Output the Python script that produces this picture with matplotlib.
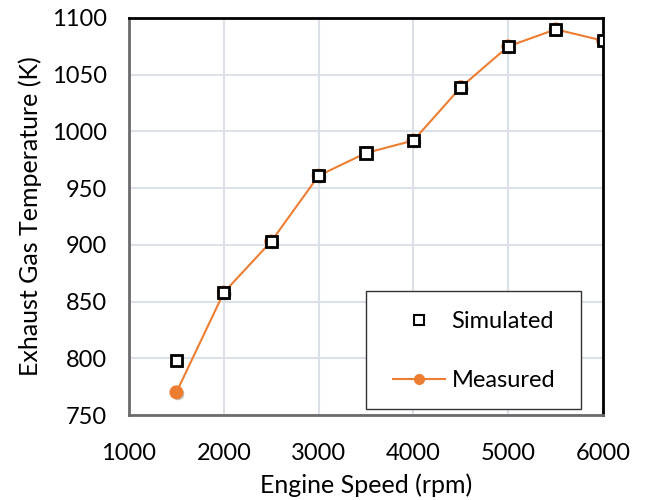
import matplotlib
matplotlib.use("Agg")
import matplotlib.pyplot as plt
import matplotlib.patheffects as pe
from matplotlib.patches import Rectangle

speed = [1500, 2000, 2500, 3000, 3500, 4000, 4500, 5000, 5500, 6000]
simulated = [798, 858, 903, 961, 981, 992, 1039, 1075, 1090, 1080]
measured = [770, 858, 903, 961, 981, 992, 1039, 1075, 1090, 1080]

plt.rcParams['font.family'] = ['Lato', 'DejaVu Sans']

fig = plt.figure(figsize=(6.45, 5.0), dpi=100)
ax = fig.add_axes([0.2, 0.17, 0.735, 0.794])

orange = '#ED7D31'
shadow = [pe.SimplePatchShadow(offset=(1.2, -1.2), alpha=0.3), pe.Normal()]
ax.plot(speed, measured, color=orange, lw=1.5, zorder=3)
ax.plot(speed, measured, ls='none', marker='o', ms=9,
        markerfacecolor=orange, markeredgecolor=orange, zorder=3,
        path_effects=shadow)
ax.plot(speed, simulated, ls='none', marker='s', ms=8, markerfacecolor='white',
        markeredgecolor='black', markeredgewidth=2, zorder=4,
        path_effects=shadow)

h_sim, = ax.plot([], [], ls='none', marker='s', ms=7, markerfacecolor='white',
                 markeredgecolor='black', markeredgewidth=1.5)
h_meas, = ax.plot([], [], color=orange, lw=1.5, marker='o', ms=7,
                  markerfacecolor=orange, markeredgecolor=orange)

ax.set_xlim(1000, 6000)
ax.set_ylim(750, 1100)
ax.set_xticks(range(1000, 6001, 1000))
ax.set_yticks(range(750, 1101, 50))
ax.grid(True, color='#DCE0E8', lw=1.5)
ax.set_axisbelow(True)
ax.tick_params(length=0, labelsize=17)
ax.tick_params(axis='x', pad=20)
ax.tick_params(axis='y', pad=16)
for s in ['top', 'right']:
    ax.spines[s].set_color('black')
    ax.spines[s].set_linewidth(2)
for s in ['left', 'bottom']:
    ax.spines[s].set_color('#6b6b6b')
    ax.spines[s].set_linewidth(2)

ax.set_xlabel('Engine Speed (rpm)', fontsize=18, labelpad=7)
ax.set_ylabel('Exhaust Gas Temperature (K)', fontsize=18, labelpad=7)

ax.add_patch(Rectangle((0.5, 0.015), 0.454, 0.297, transform=ax.transAxes,
                       facecolor='white', edgecolor='#333333', lw=1, zorder=5))
leg = ax.legend([h_sim, h_meas], ['Simulated', 'Measured'], loc='upper left',
                bbox_to_anchor=(0.556, 0.262), frameon=False, fontsize=17,
                labelspacing=1.62, handlelength=2.2, handletextpad=0.3,
                borderpad=0, borderaxespad=0)
leg.set_zorder(6)

fig.savefig('out.png', dpi=100)
